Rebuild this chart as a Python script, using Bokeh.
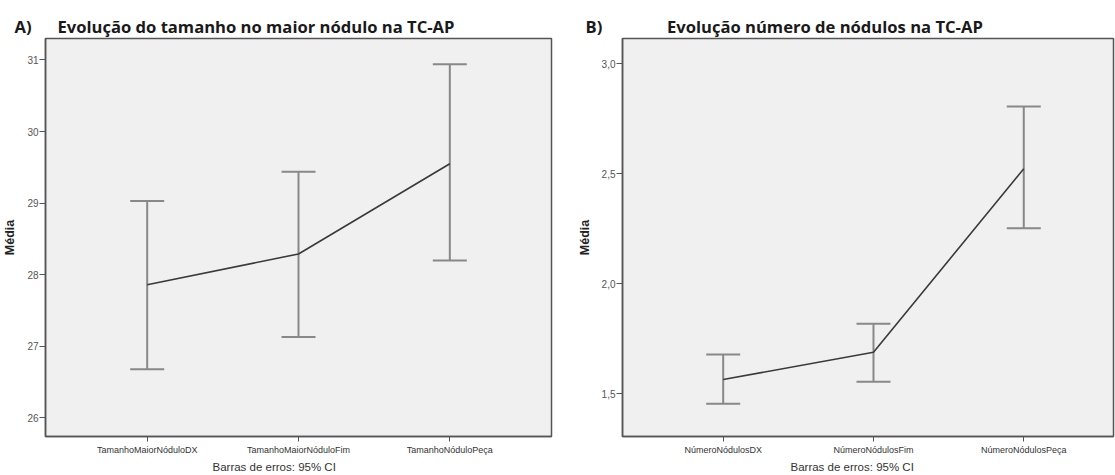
from bokeh.plotting import figure
from bokeh.layouts import row
from bokeh.models import ColumnDataSource, Range1d, FixedTicker, Whisker, TeeHead, Title
from bokeh.embed import file_html
from bokeh.resources import INLINE

# ---- data ----
cats_a = ["TamanhoMaiorNóduloDX", "TamanhoMaiorNóduloFim", "TamanhoNóduloPeça"]
mean_a = [27.86, 28.29, 29.55]
lo_a = [26.68, 27.13, 28.20]
hi_a = [29.03, 29.44, 30.94]
yticks_a = [26, 27, 28, 29, 30, 31]

cats_b = ["NúmeroNódulosDX", "NúmeroNódulosFim", "NúmeroNódulosPeça"]
mean_b = [1.565, 1.689, 2.523]
lo_b = [1.455, 1.555, 2.252]
hi_b = [1.679, 1.818, 2.806]
yticks_b = [1.5, 2.0, 2.5, 3.0]

tag_a = "A)"
tag_b = "B)"
title_a = "Evolução do tamanho no maior nódulo na TC-AP"
title_b = "Evolução número de nódulos na TC-AP"
note = "Barras de erros: 95% CI"
ylab = "Média"

BG = "#f0f0f0"
FRAME = "#555555"
LINE = "#3a3a3a"
ERR = "#888888"
NB = "\u00a0"


def make_panel(cats, mean, lo, hi, yticks, ylabels, yr, xr, width, borders,
               title_text, title_off, note_off):
    bl, br, bt, bb = borders
    p = figure(width=width, height=475, output_backend="svg", toolbar_location=None,
               x_range=Range1d(*xr), y_range=Range1d(*yr),
               min_border_left=bl, min_border_right=br,
               min_border_top=bt, min_border_bottom=bb)
    xs = list(range(1, len(cats) + 1))
    src = ColumnDataSource(dict(x=xs, m=mean, lo=lo, hi=hi))
    p.background_fill_color = BG
    p.border_fill_color = "white"
    p.outline_line_color = FRAME
    p.outline_line_width = 1.5
    p.grid.visible = False

    w = Whisker(base="x", upper="hi", lower="lo", source=src, dimension="height",
                line_color=ERR, line_width=2,
                upper_head=TeeHead(size=34, line_color=ERR, line_width=2),
                lower_head=TeeHead(size=34, line_color=ERR, line_width=2))
    p.add_layout(w)
    p.line("x", "m", source=src, line_color=LINE, line_width=1.6)

    # x axis
    xa = p.xaxis[0]
    xa.ticker = FixedTicker(ticks=xs)
    xa.major_label_overrides = {x: c for x, c in zip(xs, cats)}
    xa.major_label_text_font = "Liberation Sans"
    xa.major_label_text_font_size = "9px"
    xa.major_label_text_color = "#333333"
    xa.major_tick_out = 5
    xa.major_tick_in = 0
    xa.minor_tick_line_color = None
    xa.axis_line_color = FRAME
    xa.axis_line_width = 1.5
    xa.major_tick_line_color = FRAME
    xa.major_label_standoff = 3

    # y axis
    ya = p.yaxis[0]
    ya.ticker = FixedTicker(ticks=yticks)
    ya.major_label_overrides = {t: l for t, l in zip(yticks, ylabels)}
    ya.major_label_text_font = "Liberation Sans"
    ya.major_label_text_font_size = "10px"
    ya.major_label_text_color = "#555555"
    ya.major_tick_out = 6
    ya.major_tick_in = 0
    ya.minor_tick_line_color = None
    ya.axis_line_color = FRAME
    ya.axis_line_width = 1.5
    ya.major_tick_line_color = FRAME
    ya.major_label_standoff = 1
    ya.axis_label = ylab
    ya.axis_label_text_font = "Liberation Sans"
    ya.axis_label_text_font_style = "bold"
    ya.axis_label_text_font_size = "12.5px"
    ya.axis_label_text_color = "#222222"
    ya.axis_label_standoff = 7

    t = Title(text=title_text, align="left", offset=title_off, standoff=2,
              text_font="Open Sans", text_font_style="bold", text_font_size="16.6px",
              text_color="#1a1a1a")
    p.add_layout(t, "above")
    n = Title(text=note, align="left", offset=note_off, standoff=3,
              text_font="Liberation Sans", text_font_style="normal", text_font_size="11.5px",
              text_color="#333333")
    p.add_layout(n, "below")
    return p


pa = make_panel(cats_a, mean_a, lo_a, hi_a, yticks_a, [str(t) for t in yticks_a],
                (25.74, 31.30), (0.328, 3.672), 557, (45, 6, 38, 37),
                tag_a + NB * 6 + title_a, -31, 167)
pb = make_panel(cats_b, mean_b, lo_b, hi_b, yticks_b,
                [f"{t:.1f}".replace(".", ",") for t in yticks_b],
                (1.306, 3.115), (0.33, 3.597), 558, (65, 2, 31, 39),
                tag_b + NB * 15 + title_b, -37, 168)

layout = row(pa, pb)
open("out.html", "w").write(file_html(layout, INLINE))
